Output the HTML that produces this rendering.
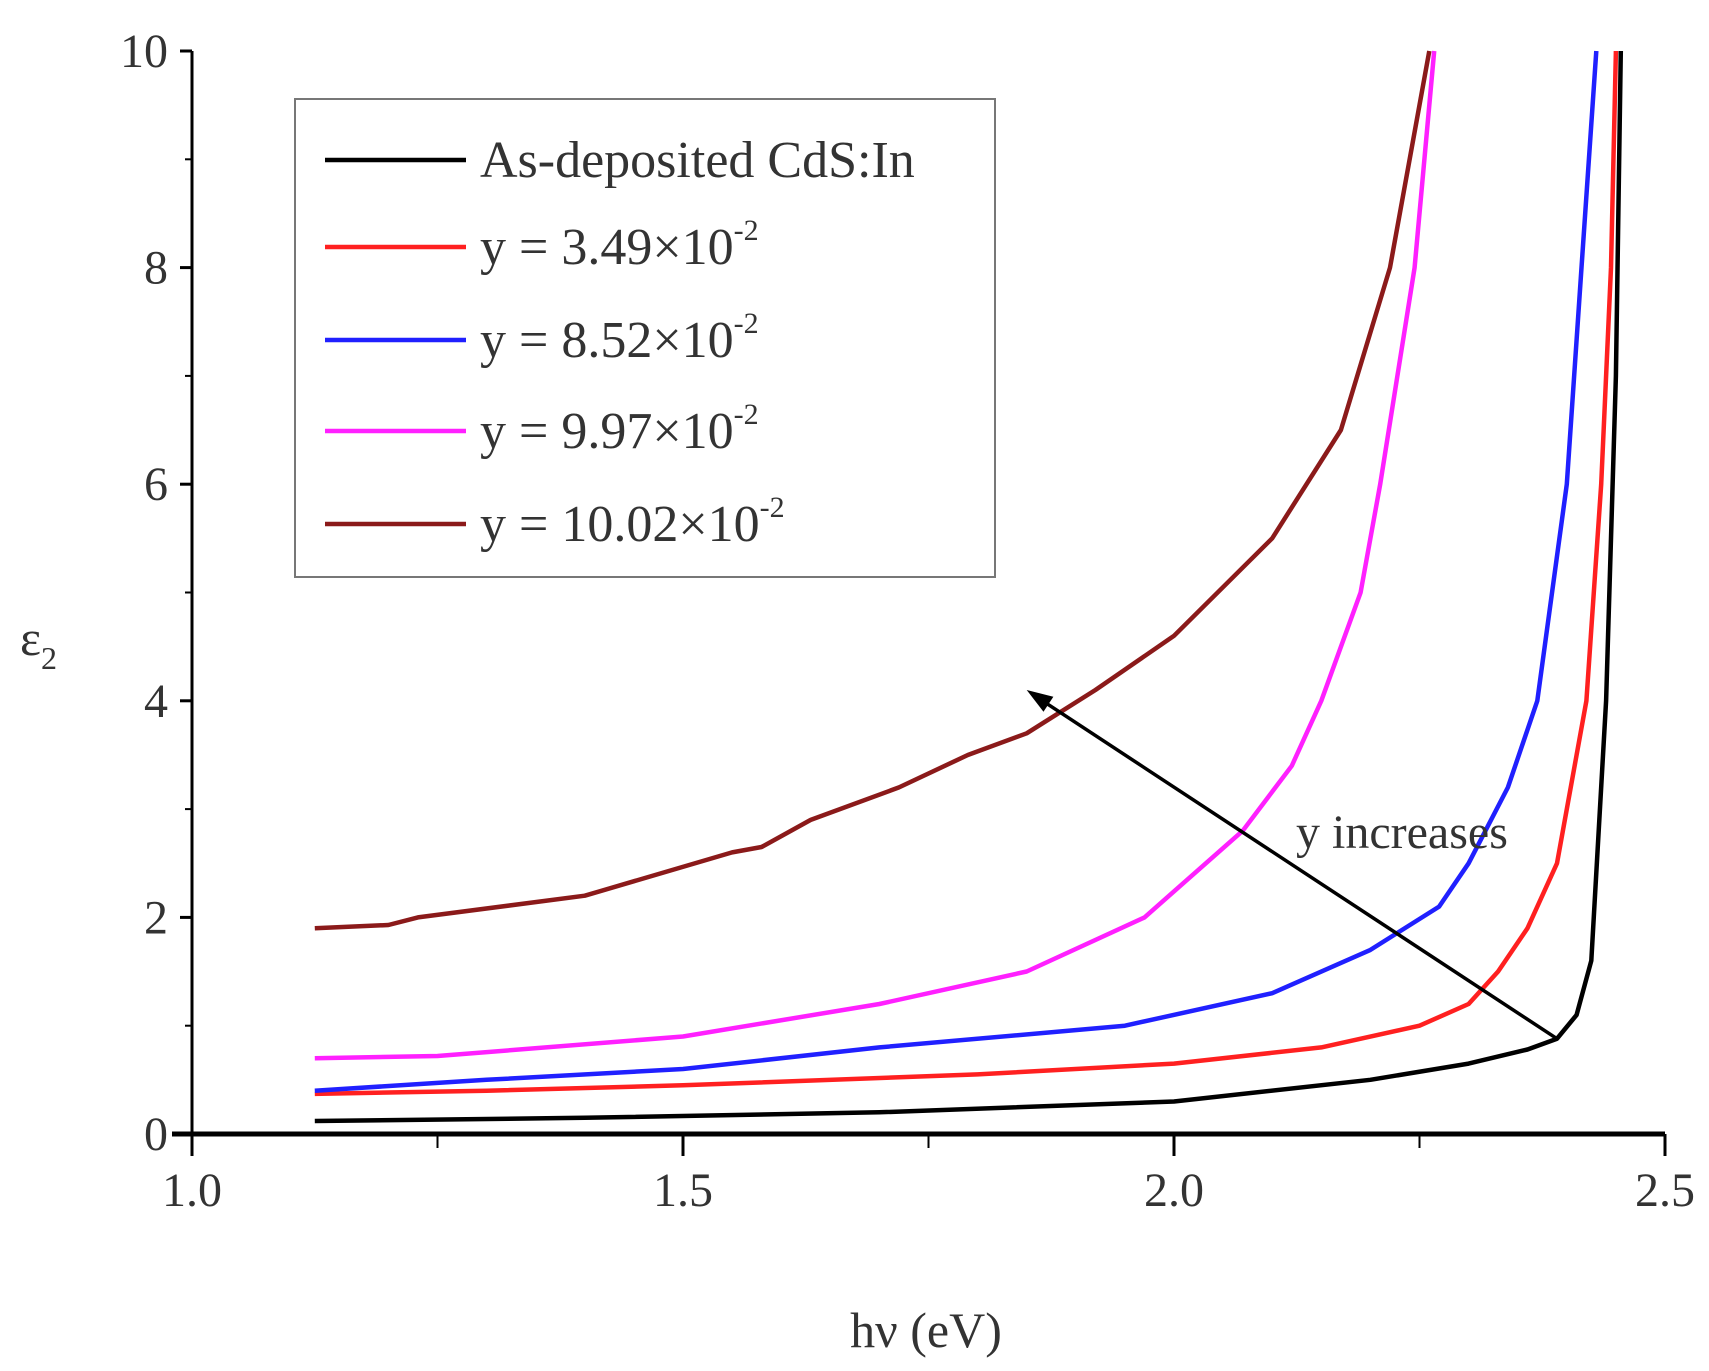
<!DOCTYPE html>
<html><head><meta charset="utf-8"><style>
html,body{margin:0;padding:0;background:#fff;}
svg{display:block;font-family:"Liberation Serif",serif;}
</style></head><body>
<svg id="chart" width="1709" height="1371" viewBox="0 0 1709 1371" xmlns="http://www.w3.org/2000/svg">
<g id="axes"></g>
<g id="series"></g>
<g id="legend"></g>
</svg>
<script>
const xTicks=[1.0,1.5,2.0,2.5];
const xTickLabels=["1.0","1.5","2.0","2.5"];
const yTicks=[0,2,4,6,8,10];
const yTickLabels=["0","2","4","6","8","10"];
const seriesNames=["As-deposited CdS:In","y = 3.49×10","y = 8.52×10","y = 9.97×10","y = 10.02×10"];
const seriesColors=["#000000","#ff2020","#2020ff","#ff20ff","#8b1a1a"];
const blackX=[1.125,1.4,1.7,2.0,2.2,2.3,2.36,2.39,2.41,2.425,2.44,2.45,2.455];
const blackY=[0.12,0.15,0.2,0.3,0.5,0.65,0.78,0.88,1.1,1.6,4,7,10];
const redX=[1.125,1.3,1.5,1.8,2.0,2.15,2.25,2.3,2.33,2.36,2.39,2.42,2.435,2.445,2.45];
const redY=[0.37,0.4,0.45,0.55,0.65,0.8,1.0,1.2,1.5,1.9,2.5,4,6,8,10];
const blueX=[1.125,1.3,1.5,1.7,1.95,2.1,2.2,2.27,2.3,2.34,2.37,2.4,2.415,2.43];
const blueY=[0.4,0.5,0.6,0.8,1.0,1.3,1.7,2.1,2.5,3.2,4,6,8,10];
const magX=[1.125,1.25,1.5,1.7,1.85,1.97,2.07,2.12,2.15,2.19,2.21,2.245,2.265];
const magY=[0.7,0.72,0.9,1.2,1.5,2.0,2.8,3.4,4,5,6,8,10];
const brownX=[1.125,1.2,1.23,1.4,1.55,1.58,1.63,1.72,1.79,1.85,1.92,2.0,2.1,2.17,2.22,2.26];
const brownY=[1.9,1.93,2.0,2.2,2.6,2.65,2.9,3.2,3.5,3.7,4.1,4.6,5.5,6.5,8,10];
const allX=[blackX,redX,blueX,magX,brownX];
const allY=[blackY,redY,blueY,magY,brownY];
const arrowFrom=[2.39,0.88];
const arrowTo=[1.85,4.1];

const X0=192,X1=1665,Y0=1134,Y1=51;
const sx=v=>X0+(v-1.0)/1.5*(X1-X0);
const sy=v=>Y0-(v/10)*(Y0-Y1);
const NS="http://www.w3.org/2000/svg";
function mk(tag,attrs,parent,text){const e=document.createElementNS(NS,tag);for(const k in attrs)e.setAttribute(k,attrs[k]);if(text!==undefined)e.textContent=text;parent.appendChild(e);return e;}
const axes=document.getElementById('axes'),ser=document.getElementById('series'),leg=document.getElementById('legend');
let e;
e=mk('line',{x1:X0,y1:Y1,x2:X0,y2:Y0,stroke:'#000','stroke-width':3},axes);


e=mk('line',{x1:X0-20,y1:Y0,x2:X1,y2:Y0,stroke:'#000','stroke-width':5},axes);


yTicks.forEach((v,i)=>{
 e=mk('line',{x1:X0-12,y1:sy(v),x2:X0,y2:sy(v),stroke:'#000','stroke-width':3},axes);
 
 
 if(v<10){e=mk('line',{x1:X0-7,y1:sy(v+1),x2:X0,y2:sy(v+1),stroke:'#000','stroke-width':2},axes);
 
 }
 e=mk('text',{x:X0-24,y:sy(v)+16,'text-anchor':'end','font-size':48,fill:'#333'},axes,yTickLabels[i]);
 
 
});
xTicks.forEach((v,i)=>{
 e=mk('line',{x1:sx(v),y1:Y0,x2:sx(v),y2:Y0+22,stroke:'#000','stroke-width':3},axes);
 
 
 if(v<2.5){e=mk('line',{x1:sx(v+0.25),y1:Y0,x2:sx(v+0.25),y2:Y0+14,stroke:'#000','stroke-width':2},axes);
 
 }
 e=mk('text',{x:sx(v),y:1206,'text-anchor':'middle','font-size':48,fill:'#333'},axes,xTickLabels[i]);
 
 
});
e=mk('text',{x:926,y:1347,'text-anchor':'middle','font-size':50,fill:'#333'},axes,'hν (eV)');


e=mk('text',{x:20,y:655,'font-size':50,fill:'#333'},axes,'ε');


mk('tspan',{'font-size':32,dy:14},e,'2');
allX.forEach((xs,si)=>{
 const pts=xs.map((x,i)=>sx(x).toFixed(1)+','+sy(allY[si][i]).toFixed(1)).join(' ');
 e=mk('polyline',{points:pts,fill:'none',stroke:seriesColors[si],'stroke-width':4.5,'stroke-linejoin':'round'},ser);
 
 
});
const ax1=sx(arrowFrom[0]),ay1=sy(arrowFrom[1]),ax2=sx(arrowTo[0]),ay2=sy(arrowTo[1]);
e=mk('line',{x1:ax1,y1:ay1,x2:ax2+10,y2:ay2+7,stroke:'#000','stroke-width':3.5},ser);


const ang=Math.atan2(ay2-ay1,ax2-ax1);
const hp=[[ax2,ay2],[ax2-26*Math.cos(ang)+9*Math.sin(ang),ay2-26*Math.sin(ang)-9*Math.cos(ang)],[ax2-26*Math.cos(ang)-9*Math.sin(ang),ay2-26*Math.sin(ang)+9*Math.cos(ang)]];
e=mk('polygon',{points:hp.map(p=>p.join(',')).join(' '),fill:'#000'},ser);


e=mk('text',{x:1296,y:848,'font-size':48,fill:'#333'},ser,'y increases');


e=mk('rect',{x:295,y:99,width:700,height:478,fill:'#fff',stroke:'#777','stroke-width':2},leg);


const rowY=[160,247,340,431,524];
seriesNames.forEach((n,i)=>{
 e=mk('line',{x1:325,y1:rowY[i],x2:466,y2:rowY[i],stroke:seriesColors[i],'stroke-width':4.5},leg);
 
 
 e=mk('text',{x:480,y:rowY[i]+17,'font-size':52,fill:'#333'},leg,n);
 
 
 if(i>0){mk('tspan',{'font-size':30,dy:-24},e,'-2');}
});
</script>
</body></html>
